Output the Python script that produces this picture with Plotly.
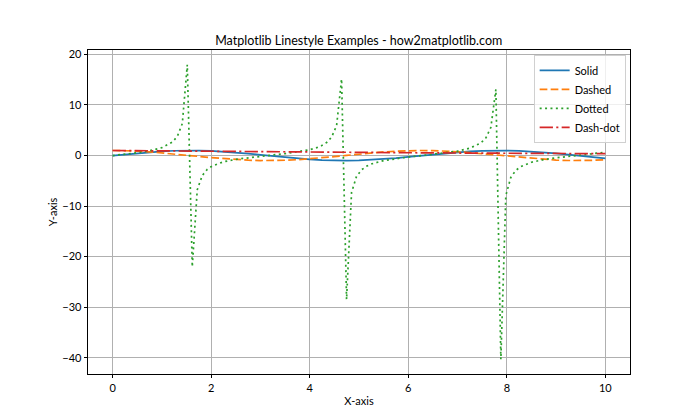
import plotly.graph_objects as go

# Smooth series sampled on a 0.25 grid
x_trig = [0, 0.25, 0.5, 0.75, 1.0, 1.25, 1.5, 1.75, 2.0, 2.25, 2.5, 2.75, 3.0, 3.25, 3.5, 3.75,
          4.0, 4.25, 4.5, 4.75, 5.0, 5.25, 5.5, 5.75, 6.0, 6.25, 6.5, 6.75, 7.0, 7.25, 7.5, 7.75,
          8.0, 8.25, 8.5, 8.75, 9.0, 9.25, 9.5, 9.75, 10.0]
solid = [0.0, 0.247, 0.479, 0.682, 0.841, 0.949, 0.997, 0.984, 0.909, 0.778, 0.598, 0.382, 0.141,
         -0.108, -0.351, -0.572, -0.757, -0.895, -0.978, -0.999, -0.959, -0.859, -0.706, -0.508,
         -0.279, -0.033, 0.215, 0.451, 0.657, 0.823, 0.938, 0.994, 0.989, 0.923, 0.798, 0.625,
         0.412, 0.173, -0.075, -0.319, -0.544]
dashed = [1.0, 0.969, 0.878, 0.732, 0.540, 0.315, 0.071, -0.178, -0.416, -0.628, -0.801, -0.924,
          -0.990, -0.994, -0.936, -0.821, -0.654, -0.446, -0.211, 0.037, 0.284, 0.512, 0.709,
          0.861, 0.960, 0.999, 0.977, 0.893, 0.754, 0.568, 0.347, 0.104, -0.146, -0.386, -0.602,
          -0.781, -0.911, -0.985, -0.997, -0.948, -0.839]

x_dotted = [0, 0.25, 0.5, 0.75, 1.0, 1.2121, 1.3131, 1.4141, 1.5152, 1.6162, 1.7172, 1.8182,
            1.9192, 2.0202, 2.25, 2.5, 2.75, 3.0, 3.25, 3.5, 3.75, 4.0, 4.1414, 4.2424, 4.3434,
            4.4444, 4.5455, 4.6465, 4.7475, 4.8485, 4.9495, 5.0505, 5.1515, 5.25, 5.5, 5.75, 6.0,
            6.25, 6.5, 6.75, 7.0, 7.25, 7.4747, 7.5758, 7.6768, 7.7778, 7.8788, 7.9798, 8.0808,
            8.1818, 8.2828, 8.5, 8.75, 9.0, 9.25, 9.5, 9.75, 10.0]
dotted = [0.0, 0.255, 0.546, 0.932, 1.557, 2.667, 3.79, 6.33, 17.97, -22.01, -6.78, -3.96,
          -2.75, -2.07, -1.238, -0.747, -0.413, -0.143, 0.109, 0.375, 0.697, 1.158, 1.555, 1.967,
          2.582, 3.643, 5.935, 15.15, -28.47, -7.30, -4.14, -2.84, -2.13, -1.67, -0.996, -0.590,
          -0.291, -0.033, 0.220, 0.504, 0.871, 1.45, 2.507, 3.501, 5.584, 13.10, -40.31, -7.91,
          -4.33, -2.94, -2.19, -1.327, -0.800, -0.452, -0.177, 0.075, 0.337, 0.648]

x_dashdot = [0, 0.5, 1.0, 1.5, 2.0, 2.5, 3.0, 3.5, 4.0, 4.5, 5.0, 5.5, 6.0, 6.5, 7.0, 7.5, 8.0,
             8.5, 9.0, 9.5, 10.0]
dashdot = [1.0, 0.951, 0.905, 0.861, 0.819, 0.779, 0.741, 0.705, 0.670, 0.638, 0.607, 0.577,
           0.549, 0.522, 0.497, 0.472, 0.449, 0.427, 0.407, 0.387, 0.368]

x_ticks = [0, 2, 4, 6, 8, 10]
y_ticks = [-40, -30, -20, -10, 0, 10, 20]

FONT = "Lato, Open Sans, sans-serif"
W = 1.7

fig = go.Figure()
fig.add_trace(go.Scatter(x=x_trig, y=solid, mode="lines", name="Solid",
                         line=dict(color="#1f77b4", width=W)))
fig.add_trace(go.Scatter(x=x_trig, y=dashed, mode="lines", name="Dashed",
                         line=dict(color="#ff7f0e", width=W, dash="7.7px,3.3px")))
fig.add_trace(go.Scatter(x=x_dotted, y=dotted, mode="lines", name="Dotted",
                         line=dict(color="#2ca02c", width=W, dash="2px,3.4px")))
fig.add_trace(go.Scatter(x=x_dashdot, y=dashdot, mode="lines", name="Dash-dot",
                         line=dict(color="#d62728", width=W, dash="13.3px,3.3px,2.1px,3.3px")))

axis_common = dict(showgrid=True, gridcolor="#b0b0b0", gridwidth=0.8, zeroline=False,
                   showline=True, linecolor="black", linewidth=0.8, mirror=True,
                   ticks="outside", ticklen=3.5, tickwidth=0.8, tickcolor="black",
                   automargin=False,
                   tickfont=dict(family=FONT, size=11, color="black"))

fig.update_layout(
    width=700, height=420,
    paper_bgcolor="white", plot_bgcolor="white",
    margin=dict(l=87.5, r=70, t=50.4, b=46.2, autoexpand=False),
    title=dict(text="Matplotlib Linestyle Examples - how2matplotlib.com",
               x=(87.5 + 630) / 2 / 700, xanchor="center", y=1 - 40.5 / 420, yanchor="middle",
               font=dict(family=FONT, size=12.5, color="black")),
    xaxis=dict(range=[-0.5, 10.5], tickvals=x_ticks,
               title=dict(text="X-axis", font=dict(family=FONT, size=11, color="black"), standoff=4),
               **axis_common),
    yaxis=dict(range=[-43.22, 20.88], tickvals=y_ticks,
               title=dict(text="Y-axis", font=dict(family=FONT, size=11, color="black"), standoff=2),
               **axis_common),
    legend=dict(x=0.992, y=0.985, xanchor="right", yanchor="top",
                bgcolor="rgba(255,255,255,0.8)", bordercolor="#d0d0d0", borderwidth=1,
                font=dict(family=FONT, size=11, color="black"), tracegroupgap=0,
                itemwidth=30),
    showlegend=True,
)

fig.write_html("out.html", config={"displayModeBar": False},
               post_script="document.body.style.margin='0';document.body.style.overflow='hidden';")
